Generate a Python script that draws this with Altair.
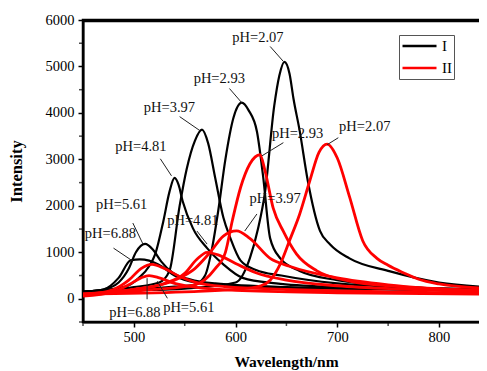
import altair as alt
import pandas as pd

# ---- spectra (wavelength nm, intensity) ----
# Series I (black)
B207_WL = [450, 500, 550, 600, 614, 622, 629, 638, 643, 648, 653, 657, 663, 671, 683, 693, 712, 752, 800, 850]
B207_IN = [150, 180, 220, 350, 870, 1500, 2300, 4150, 4800, 5100, 4850, 4300, 3618, 2540, 1460, 1170, 870, 590, 350, 250]
B293_WL = [450, 500, 540, 560, 570, 577, 583, 590, 598, 606, 613, 621, 627, 634, 644, 663, 700, 750, 800, 850]
B293_IN = [150, 200, 260, 300, 500, 1100, 1900, 3000, 3900, 4220, 4050, 3600, 2650, 1300, 870, 600, 400, 280, 220, 200]
B397_WL = [450, 500, 525, 535, 545, 552, 560, 567, 573, 580, 588, 595, 605, 620, 645, 700, 750, 850]
B397_IN = [150, 250, 350, 600, 2000, 2800, 3400, 3640, 3350, 2600, 1750, 1300, 820, 620, 500, 330, 260, 200]
B481_WL = [450, 490, 505, 515, 521, 529, 535, 540, 544, 548, 558, 572, 588, 607, 640, 700, 850]
B481_IN = [150, 250, 450, 700, 960, 1670, 2300, 2600, 2450, 2100, 1520, 1090, 740, 450, 330, 250, 180]
B561_WL = [450, 470, 485, 495, 502, 511, 519, 527, 538, 555, 580, 650, 850]
B561_IN = [150, 200, 350, 650, 1000, 1180, 1050, 800, 560, 420, 330, 250, 180]
B688_WL = [450, 470, 485, 497, 506, 515, 527, 540, 560, 600, 700, 850]
B688_IN = [150, 200, 450, 830, 850, 820, 700, 500, 350, 270, 220, 180]

# Series II (red)
R207_WL = [450, 550, 600, 625, 634, 644, 653, 663, 673, 682, 690, 700, 712, 725, 739, 750, 765, 780, 800, 850]
R207_IN = [100, 150, 200, 280, 400, 750, 1250, 1820, 2540, 3150, 3330, 3030, 2200, 1250, 870, 720, 560, 420, 320, 220]
R293_WL = [450, 520, 560, 580, 590, 597, 605, 614, 624, 629, 637, 647, 660, 680, 712, 760, 850]
R293_IN = [100, 200, 300, 650, 1000, 1700, 2400, 2900, 3100, 2750, 1950, 1450, 960, 600, 380, 260, 180]
R397_WL = [450, 500, 540, 560, 575, 588, 601, 614, 634, 653, 700, 750, 850]
R397_IN = [100, 200, 400, 650, 1000, 1350, 1460, 1300, 870, 700, 450, 300, 170]
R481_WL = [450, 500, 530, 550, 562, 572, 582, 600, 620, 650, 700, 760, 850]
R481_IN = [100, 200, 330, 550, 850, 1000, 950, 760, 560, 400, 280, 210, 160]
R561_WL = [450, 480, 495, 507, 518, 530, 545, 560, 590, 650, 750, 850]
R561_IN = [80, 200, 400, 650, 740, 650, 480, 360, 260, 200, 150, 120]
R688_WL = [450, 480, 495, 507, 515, 525, 540, 560, 600, 700, 850]
R688_IN = [60, 150, 300, 450, 500, 450, 330, 250, 180, 130, 100]

CURVES = [
    ("I", "b207", B207_WL, B207_IN), ("I", "b293", B293_WL, B293_IN),
    ("I", "b397", B397_WL, B397_IN), ("I", "b481", B481_WL, B481_IN),
    ("I", "b561", B561_WL, B561_IN), ("I", "b688", B688_WL, B688_IN),
    ("II", "r207", R207_WL, R207_IN), ("II", "r293", R293_WL, R293_IN),
    ("II", "r397", R397_WL, R397_IN), ("II", "r481", R481_WL, R481_IN),
    ("II", "r561", R561_WL, R561_IN), ("II", "r688", R688_WL, R688_IN),
]

# ---- annotations (data units) ----
LABEL_TEXT = ["pH=2.07", "pH=2.93", "pH=3.97", "pH=4.81", "pH=5.61", "pH=6.88",
              "pH=4.81", "pH=3.97", "pH=2.93", "pH=2.07", "pH=6.88", "pH=5.61"]
LABEL_X = [622, 584, 535, 507, 488, 477, 558, 639, 661, 727, 501, 554]
LABEL_Y = [5605, 4740, 4115, 3272, 2020, 1393, 1674, 2149, 3550, 3700, -313, -205]
LEAD_X1 = [634, 594, 545, 526, 499, 480, 562, 621, 647, 701, 513, 533]
LEAD_Y1 = [5430, 4525, 3920, 3013, 1630, 1090, 1458, 1825, 3360, 3466, -10, 10]
LEAD_X2 = [647, 606, 565, 537, 509, 499, 572, 609, 626, 690, 513, 523]
LEAD_Y2 = [5108, 4222, 3618, 2646, 1177, 810, 1177, 1458, 3077, 3315, 443, 378]

X_MAJOR = [500, 600, 700, 800]
X_MINOR = [450, 550, 650, 750]
Y_MAJOR = [0, 1000, 2000, 3000, 4000, 5000, 6000]
Y_MINOR = [-500, 500, 1500, 2500, 3500, 4500, 5500]
X_MIN, X_MAX = 450, 847.2   # the plot runs slightly past the picture's right edge
Y_MIN, Y_TOP = -500, 6000
FRAME_BAND = 5950           # lower edge of the thick top frame band

rows = []
for grp, cid, wl, inten in CURVES:
    for w, v in zip(wl, inten):
        rows.append({"wl": w, "inten": v, "grp": grp, "curve": cid})
df = pd.DataFrame(rows)

lab = pd.DataFrame({"t": LABEL_TEXT, "x": LABEL_X, "y": LABEL_Y})
lead = pd.DataFrame({"x1": LEAD_X1, "y1": LEAD_Y1, "x2": LEAD_X2, "y2": LEAD_Y2})
xminor = pd.DataFrame({"v": X_MINOR, "base": [Y_MIN] * len(X_MINOR)})
yminor = pd.DataFrame({"v": Y_MINOR, "base": [X_MIN] * len(Y_MINOR)})
frame = pd.DataFrame({"fx": [X_MIN], "fx2": [X_MAX], "fy": [FRAME_BAND], "fy2": [Y_TOP]})

SERIF = "Liberation Serif"
xs = alt.Scale(domain=[X_MIN, X_MAX], nice=False, zero=False)
ys = alt.Scale(domain=[Y_MIN, Y_TOP], nice=False, zero=False)

common_axis = dict(
    grid=False, labelFlush=False, labelOverlap=False,
    domainWidth=2, domainColor="black", tickColor="black", tickWidth=1.5, tickSize=5,
    labelFont=SERIF, labelFontSize=14.5, labelColor="black",
    titleFont=SERIF, titleFontWeight="bold", titleColor="black",
)
x_axis = alt.Axis(title="Wavelength/nm", values=X_MAJOR, format="d",
                  labelPadding=3, titlePadding=11, titleFontSize=15.5,
                  titleX=203, **common_axis)
y_axis = alt.Axis(title="Intensity", values=Y_MAJOR, format="d",
                  labelPadding=4, titlePadding=21, titleFontSize=16.5, **common_axis)

color = alt.Color(
    "grp:N", scale=alt.Scale(domain=["I", "II"], range=["#000000", "#ff0000"]),
    legend=alt.Legend(
        title=None, orient="none", legendX=316, legendY=15, symbolType="stroke",
        symbolSize=1156, symbolStrokeWidth=2.5, labelFont=SERIF, labelFontSize=15,
        labelColor="black", strokeColor="#555555", padding=2, clipHeight=18,
        rowPadding=4, labelOffset=4, fillColor="white",
    ),
)

black = alt.Chart(df[df.grp == "I"]).mark_line(strokeWidth=2.2, interpolate="monotone", clip=True).encode(
    x=alt.X("wl:Q", scale=xs, axis=x_axis),
    y=alt.Y("inten:Q", scale=ys, axis=y_axis),
    color=color, detail="curve:N",
)
red = alt.Chart(df[df.grp == "II"]).mark_line(strokeWidth=2.8, interpolate="monotone", clip=True).encode(
    x=alt.X("wl:Q", scale=xs), y=alt.Y("inten:Q", scale=ys),
    color=color, detail="curve:N",
)
frame_top = alt.Chart(frame).mark_rect(color="black", opacity=1).encode(
    x=alt.X("fx:Q", scale=xs), x2="fx2:Q",
    y=alt.Y("fy:Q", scale=ys), y2="fy2:Q",
)
x_minor_ticks = alt.Chart(xminor).mark_tick(
    orient="vertical", size=4, thickness=1.5, color="black", yOffset=2
).encode(x=alt.X("v:Q", scale=xs), y=alt.Y("base:Q", scale=ys))
y_minor_ticks = alt.Chart(yminor).mark_tick(
    orient="horizontal", size=4, thickness=1.5, color="black", xOffset=-2
).encode(x=alt.X("base:Q", scale=xs), y=alt.Y("v:Q", scale=ys))
leaders = alt.Chart(lead).mark_rule(color="#222222", strokeWidth=1).encode(
    x=alt.X("x1:Q", scale=xs), y=alt.Y("y1:Q", scale=ys), x2="x2:Q", y2="y2:Q",
)
texts = alt.Chart(lab).mark_text(font=SERIF, fontSize=14.5, color="#111111").encode(
    x=alt.X("x:Q", scale=xs), y=alt.Y("y:Q", scale=ys), text="t:N",
)

chart = alt.layer(black, red, frame_top, x_minor_ticks, y_minor_ticks, leaders, texts).properties(
    width=404, height=302,
    autosize=alt.AutoSizeParams(type="none"),
    padding={"left": 75, "top": 12, "right": -8, "bottom": 49},
).configure_view(stroke="black", strokeWidth=2.5)

chart.save("out.html", embed_options={"renderer": "svg", "actions": False})
